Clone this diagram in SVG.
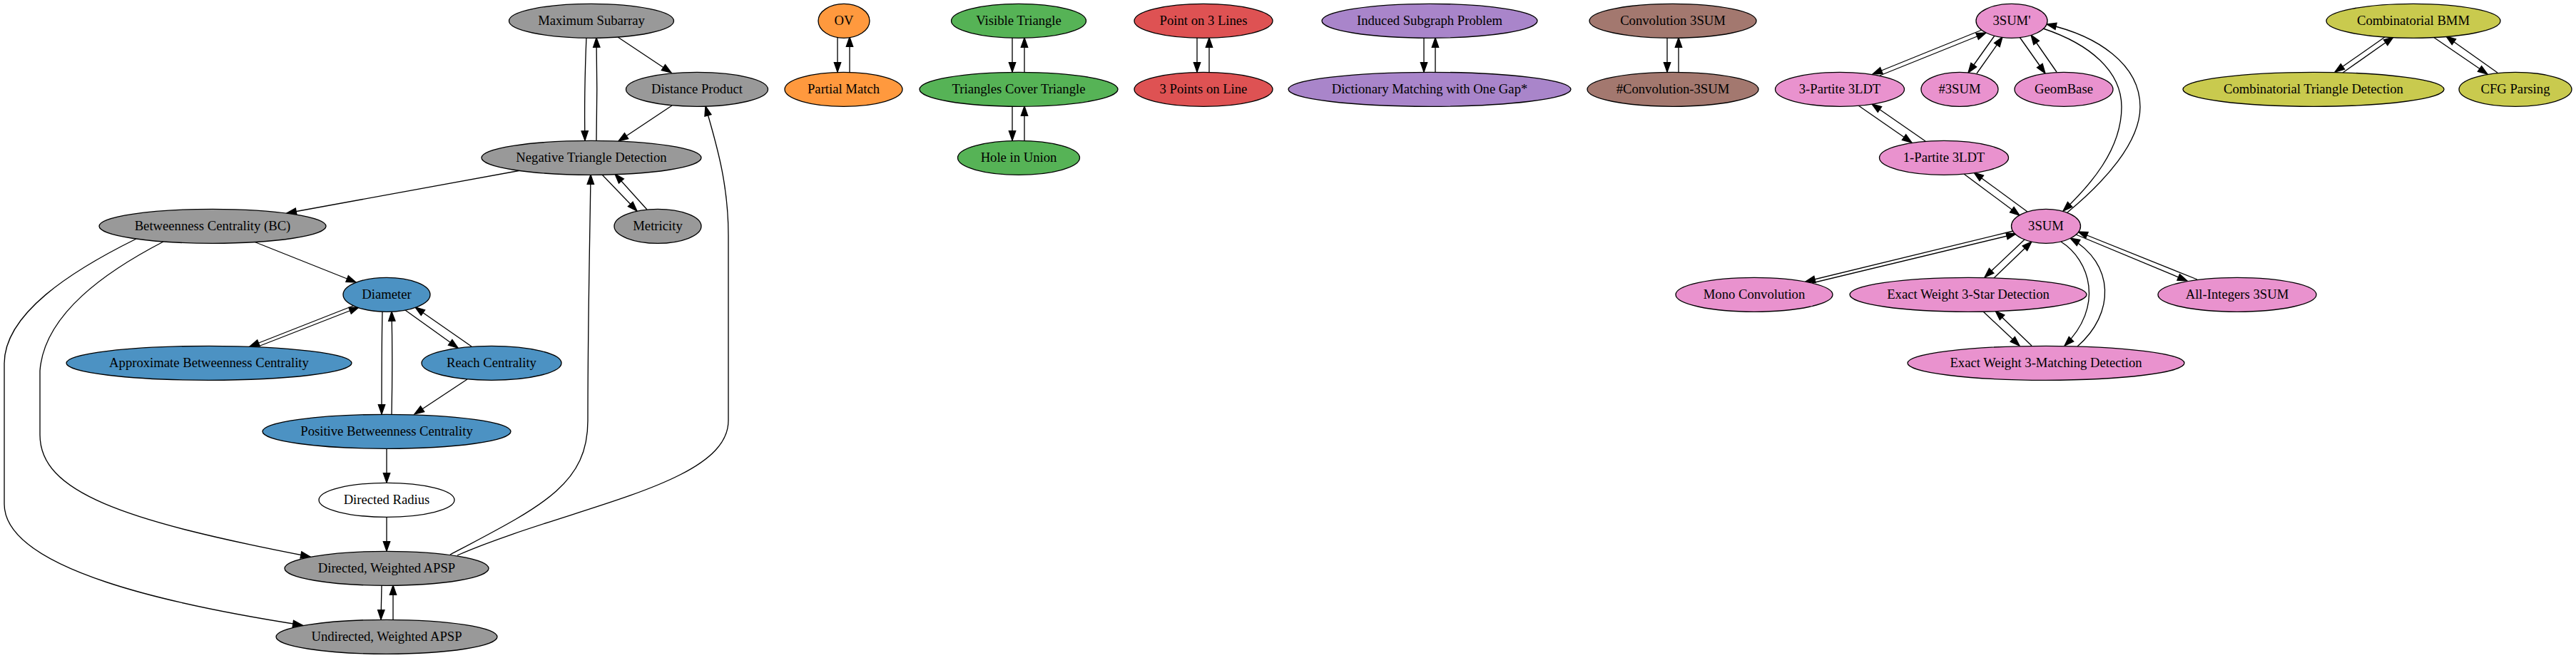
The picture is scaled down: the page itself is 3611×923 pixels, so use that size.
<svg xmlns="http://www.w3.org/2000/svg" width="3611" height="923" viewBox="0 0 3611 923">
<style>
.node ellipse{stroke:#000;stroke-width:1.33}
.node text{font-family:"Liberation Serif","Times New Roman",serif;font-size:18.67px;text-anchor:middle;fill:#000}
.gray{fill:#999999}.blue{fill:#4c92c3}.orange{fill:#ff993e}.green{fill:#56b356}.red{fill:#de5253}
.purple{fill:#a985ca}.brown{fill:#a3786f}.pink{fill:#e992ce}.olive{fill:#c9ca4e}.white{fill:#ffffff}
#edges path{fill:none;stroke:#000;stroke-width:1.33;marker-end:url(#ah)}
</style>
<defs>
<marker id="ah" viewBox="-2 -7 17 14" refX="13.33" refY="0" markerWidth="17" markerHeight="14" markerUnits="userSpaceOnUse" orient="auto">
<path d="M0,-4.67 L13.33,0 L0,4.67 Z" fill="#000" stroke="#000" stroke-width="1.33"/>
</marker>
</defs>
<rect width="3611" height="923" fill="#fff"/>
<g id="edges">
<path d="M822,52 C820,100 819,150 820,197"/>
<path d="M836,197 C837,150 837,100 836,53"/>
<path d="M866,52 L941,102"/>
<path d="M942,148 L867,198"/>
<path d="M730,239 L402,299"/>
<path d="M844,245 L893,296"/>
<path d="M907,294 L862,244"/>
<path d="M356,339 L499,396"/>
<path d="M229,339 C150,380 62,440 56,520 L56,610 C56,690 170,730 435,781"/>
<path d="M191,335 C100,380 6,440 6,510 L6,707 C6,800 250,850 424,877"/>
<path d="M631,778 C760,710 824,680 824,590 C824,450 827,330 828,245"/>
<path d="M641,779 C800,710 1021,680 1021,590 L1021,330 C1021,250 1000,190 989,149"/>
<path d="M495,429 L350,486"/>
<path d="M362,486 L503,431"/>
<path d="M568,435 L642,488"/>
<path d="M661,486 L582,431"/>
<path d="M536,437 C535,480 535,530 535,581"/>
<path d="M549,581 C550,530 550,480 549,437"/>
<path d="M655,532 L581,581"/>
<path d="M542,629 L542,677"/>
<path d="M542,725 L542,773"/>
<path d="M535,821 L534,869"/>
<path d="M551,869 L551,821"/>
<path d="M1174,52 L1174,101"/>
<path d="M1191,101 L1191,52"/>
<path d="M1419,53 L1419,101"/>
<path d="M1436,101 L1436,53"/>
<path d="M1419,149 L1419,197"/>
<path d="M1436,197 L1436,149"/>
<path d="M1678,53 L1678,101"/>
<path d="M1695,101 L1695,53"/>
<path d="M1996,53 L1996,101"/>
<path d="M2012,101 L2012,53"/>
<path d="M2337,53 L2337,101"/>
<path d="M2353,101 L2353,53"/>
<path d="M2778,42 L2625,104"/>
<path d="M2635,106 L2784,46"/>
<path d="M2796,50 L2759,102"/>
<path d="M2771,103 L2807,52"/>
<path d="M2831,52 L2867,103"/>
<path d="M2883,101 L2847,49"/>
<path d="M2864,40 C2930,62 2974,100 2974,150 C2974,210 2930,260 2892,296"/>
<path d="M2898,298 C2950,255 3000,200 3000,150 C3000,90 2940,50 2869,34"/>
<path d="M2605,148 L2680,200"/>
<path d="M2699,198 L2624,146"/>
<path d="M2753,244 L2831,302"/>
<path d="M2842,297 L2767,242"/>
<path d="M2822,324 L2531,395"/>
<path d="M2540,397 L2826,328"/>
<path d="M2838,336 L2782,389"/>
<path d="M2795,390 L2848,339"/>
<path d="M2889,339 C2930,365 2950,430 2894,485"/>
<path d="M2912,486 C2965,440 2965,370 2902,334"/>
<path d="M2910,329 L3066,394"/>
<path d="M3080,392 L2913,325"/>
<path d="M2780,437 L2831,485"/>
<path d="M2848,485 L2797,436"/>
<path d="M3343,52 L3273,101"/>
<path d="M3284,102 L3355,52"/>
<path d="M3411,52 L3487,104"/>
<path d="M3501,102 L3429,51"/>
</g>
<g id="n_maxsub" class="node"><ellipse class="gray" cx="829" cy="29.3" rx="115.5" ry="24"/><text x="829" y="35.3">Maximum Subarray</text></g>
<g id="n_distprod" class="node"><ellipse class="gray" cx="977" cy="125.3" rx="99.5" ry="24"/><text x="977" y="131.3">Distance Product</text></g>
<g id="n_negtri" class="node"><ellipse class="gray" cx="829" cy="221.3" rx="154" ry="24"/><text x="829" y="227.3">Negative Triangle Detection</text></g>
<g id="n_metricity" class="node"><ellipse class="gray" cx="922" cy="317.3" rx="61" ry="24"/><text x="922" y="323.3">Metricity</text></g>
<g id="n_bc" class="node"><ellipse class="gray" cx="298" cy="317.3" rx="159" ry="24"/><text x="298" y="323.3">Betweenness Centrality (BC)</text></g>
<g id="n_diameter" class="node"><ellipse class="blue" cx="542" cy="413.3" rx="61" ry="24"/><text x="542" y="419.3">Diameter</text></g>
<g id="n_approxbc" class="node"><ellipse class="blue" cx="293" cy="509.3" rx="200" ry="24"/><text x="293" y="515.3">Approximate Betweenness Centrality</text></g>
<g id="n_reach" class="node"><ellipse class="blue" cx="689" cy="509.3" rx="98" ry="24"/><text x="689" y="515.3">Reach Centrality</text></g>
<g id="n_posbc" class="node"><ellipse class="blue" cx="542" cy="605.3" rx="174" ry="24"/><text x="542" y="611.3">Positive Betweenness Centrality</text></g>
<g id="n_dirradius" class="node"><ellipse class="white" cx="542" cy="701.3" rx="95" ry="24"/><text x="542" y="707.3">Directed Radius</text></g>
<g id="n_dirapsp" class="node"><ellipse class="gray" cx="542" cy="797.3" rx="143" ry="24"/><text x="542" y="803.3">Directed, Weighted APSP</text></g>
<g id="n_undirapsp" class="node"><ellipse class="gray" cx="542" cy="893.3" rx="155" ry="24"/><text x="542" y="899.3">Undirected, Weighted APSP</text></g>
<g id="n_ov" class="node"><ellipse class="orange" cx="1183" cy="29.3" rx="36" ry="24"/><text x="1183" y="35.3">OV</text></g>
<g id="n_partial" class="node"><ellipse class="orange" cx="1182.5" cy="125.3" rx="82.5" ry="24"/><text x="1182.5" y="131.3">Partial Match</text></g>
<g id="n_visible" class="node"><ellipse class="green" cx="1428" cy="29.3" rx="94.5" ry="24"/><text x="1428" y="35.3">Visible Triangle</text></g>
<g id="n_tct" class="node"><ellipse class="green" cx="1428" cy="125.3" rx="139" ry="24"/><text x="1428" y="131.3">Triangles Cover Triangle</text></g>
<g id="n_hole" class="node"><ellipse class="green" cx="1428" cy="221.3" rx="85.5" ry="24"/><text x="1428" y="227.3">Hole in Union</text></g>
<g id="n_p3l" class="node"><ellipse class="red" cx="1687" cy="29.3" rx="97" ry="24"/><text x="1687" y="35.3">Point on 3 Lines</text></g>
<g id="n_3pl" class="node"><ellipse class="red" cx="1687" cy="125.3" rx="97" ry="24"/><text x="1687" y="131.3">3 Points on Line</text></g>
<g id="n_isp" class="node"><ellipse class="purple" cx="2004" cy="29.3" rx="151" ry="24"/><text x="2004" y="35.3">Induced Subgraph Problem</text></g>
<g id="n_dm" class="node"><ellipse class="purple" cx="2004" cy="125.3" rx="198" ry="24"/><text x="2004" y="131.3">Dictionary Matching with One Gap*</text></g>
<g id="n_conv" class="node"><ellipse class="brown" cx="2345" cy="29.3" rx="117" ry="24"/><text x="2345" y="35.3">Convolution 3SUM</text></g>
<g id="n_sconv" class="node"><ellipse class="brown" cx="2345" cy="125.3" rx="120" ry="24"/><text x="2345" y="131.3">#Convolution-3SUM</text></g>
<g id="n_3sump" class="node"><ellipse class="pink" cx="2820" cy="29.3" rx="50" ry="24"/><text x="2820" y="35.3">3SUM'</text></g>
<g id="n_3p3ldt" class="node"><ellipse class="pink" cx="2579" cy="125.3" rx="90.5" ry="24"/><text x="2579" y="131.3">3-Partite 3LDT</text></g>
<g id="n_s3sum" class="node"><ellipse class="pink" cx="2747" cy="125.3" rx="54" ry="24"/><text x="2747" y="131.3">#3SUM</text></g>
<g id="n_geombase" class="node"><ellipse class="pink" cx="2893" cy="125.3" rx="69" ry="24"/><text x="2893" y="131.3">GeomBase</text></g>
<g id="n_1p3ldt" class="node"><ellipse class="pink" cx="2725" cy="221.3" rx="90.5" ry="24"/><text x="2725" y="227.3">1-Partite 3LDT</text></g>
<g id="n_3sum" class="node"><ellipse class="pink" cx="2868" cy="317.3" rx="48.5" ry="24"/><text x="2868" y="323.3">3SUM</text></g>
<g id="n_mono" class="node"><ellipse class="pink" cx="2459" cy="413.3" rx="110" ry="24"/><text x="2459" y="419.3">Mono Convolution</text></g>
<g id="n_star" class="node"><ellipse class="pink" cx="2759" cy="413.3" rx="166" ry="24"/><text x="2759" y="419.3">Exact Weight 3-Star Detection</text></g>
<g id="n_allint" class="node"><ellipse class="pink" cx="3136" cy="413.3" rx="111" ry="24"/><text x="3136" y="419.3">All-Integers 3SUM</text></g>
<g id="n_match" class="node"><ellipse class="pink" cx="2868" cy="509.3" rx="194" ry="24"/><text x="2868" y="515.3">Exact Weight 3-Matching Detection</text></g>
<g id="n_bmm" class="node"><ellipse class="olive" cx="3383" cy="29.3" rx="122" ry="24"/><text x="3383" y="35.3">Combinatorial BMM</text></g>
<g id="n_ctd" class="node"><ellipse class="olive" cx="3243" cy="125.3" rx="183" ry="24"/><text x="3243" y="131.3">Combinatorial Triangle Detection</text></g>
<g id="n_cfg" class="node"><ellipse class="olive" cx="3526" cy="125.3" rx="79" ry="24"/><text x="3526" y="131.3">CFG Parsing</text></g>
</svg>
